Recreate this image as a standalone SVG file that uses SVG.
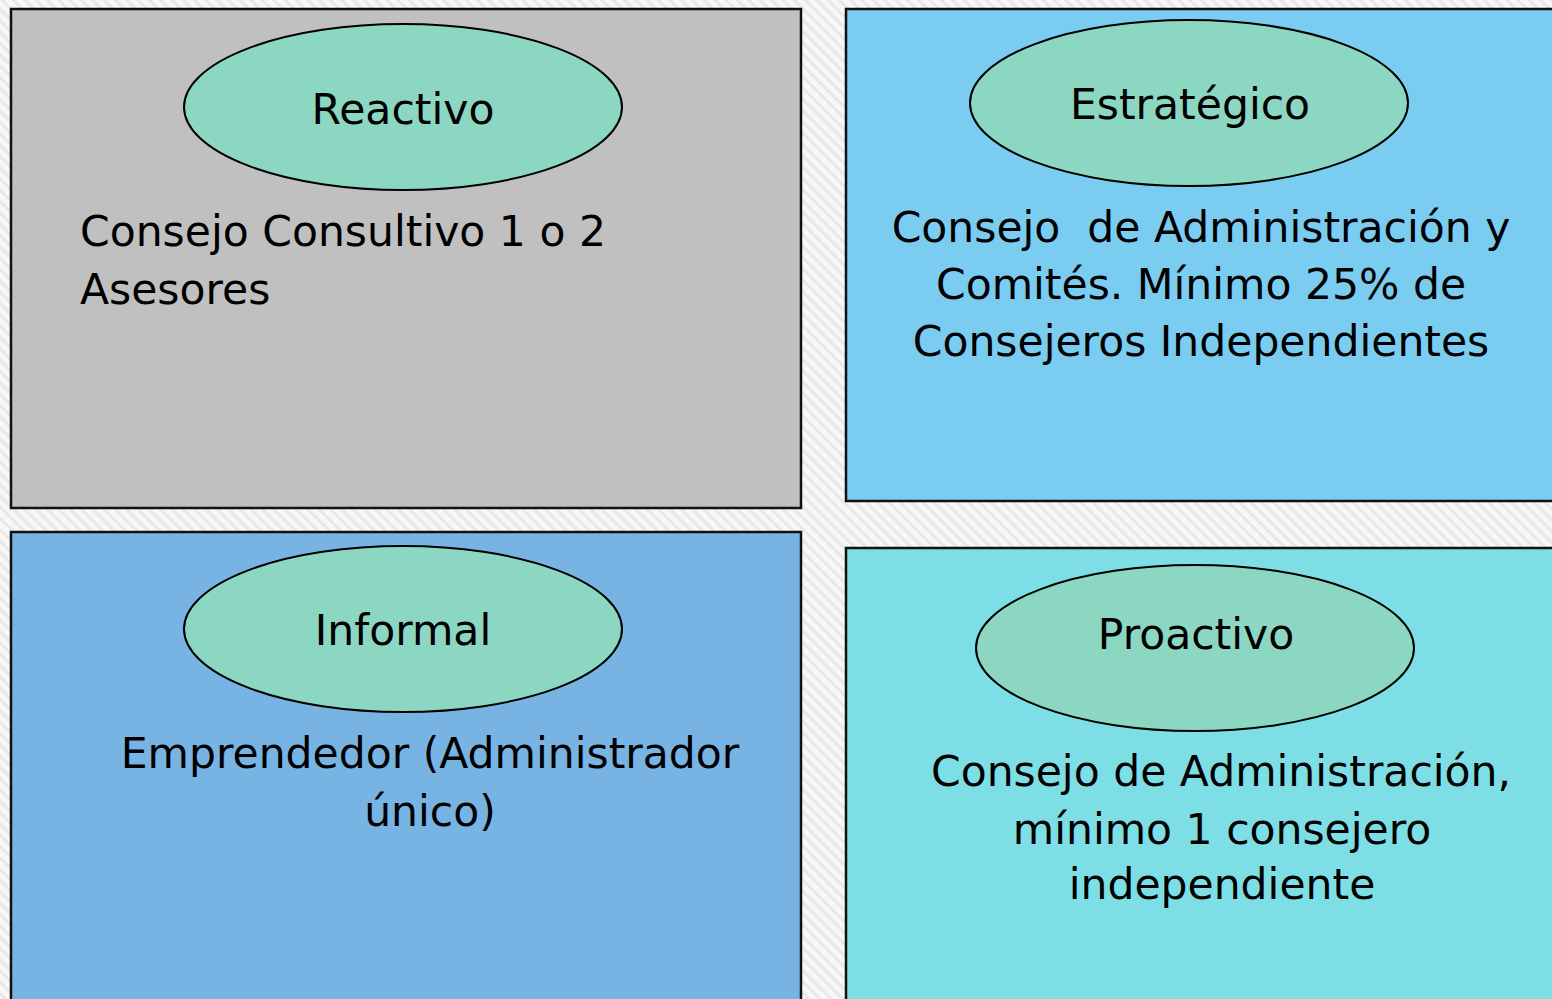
<svg xmlns="http://www.w3.org/2000/svg" width="1552" height="999" viewBox="0 0 1552 999">
<defs>
<pattern id="bg" width="8" height="8" patternUnits="userSpaceOnUse" patternTransform="rotate(-45)">
<rect width="8" height="8" fill="#f7f7f7"/>
<rect width="3" height="8" fill="#e8e8e8"/>
</pattern>
<style>
.box{stroke:#111;stroke-width:2.5}
.ell{fill:#8cd7c2;stroke:#000;stroke-width:2}
.t{font-family:"DejaVu Sans",sans-serif;font-size:42.5px;fill:#000}
.m{text-anchor:middle}
</style>
</defs>
<rect width="1552" height="999" fill="url(#bg)"/>
<g id="reactivo">
<rect class="box" x="11" y="9" width="790" height="499" fill="#c0c0c0"/>
<ellipse class="ell" cx="403" cy="107" rx="219" ry="83"/>
<text class="t m" x="403" y="124">Reactivo</text>
<text class="t" x="80" y="246">Consejo Consultivo 1 o 2</text>
<text class="t" x="80" y="304">Asesores</text>
</g>
<g id="estrategico">
<rect class="box" x="846" y="9" width="710" height="492" fill="#7acdf0"/>
<ellipse class="ell" cx="1189" cy="103" rx="219" ry="83"/>
<text class="t m" x="1190" y="119">Estratégico</text>
<text class="t m" x="1201" y="242" xml:space="preserve">Consejo  de Administración y</text>
<text class="t m" x="1201" y="299">Comités. Mínimo 25% de</text>
<text class="t m" x="1201" y="356">Consejeros Independientes</text>
</g>
<g id="informal">
<rect class="box" x="11" y="532" width="790" height="470" fill="#77b4e3"/>
<ellipse class="ell" cx="403" cy="629" rx="219" ry="83"/>
<text class="t m" x="403" y="645">Informal</text>
<text class="t m" x="430" y="768">Emprendedor (Administrador</text>
<text class="t m" x="430" y="826">único)</text>
</g>
<g id="proactivo">
<rect class="box" x="846" y="548" width="710" height="454" fill="#7ddfe5"/>
<ellipse class="ell" cx="1195" cy="648" rx="219" ry="83"/>
<text class="t m" x="1196" y="649">Proactivo</text>
<text class="t m" x="1221" y="786">Consejo de Administración,</text>
<text class="t m" x="1222" y="844">mínimo 1 consejero</text>
<text class="t m" x="1222" y="899">independiente</text>
</g>
<g id="connectors"/>
</svg>
